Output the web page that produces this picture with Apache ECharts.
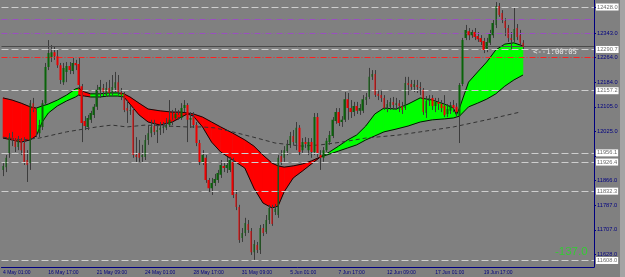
<!DOCTYPE html>
<html><head><meta charset="utf-8">
<script src="https://cdn.jsdelivr.net/npm/echarts@6/dist/echarts.min.js"></script>
<style>html,body{margin:0;padding:0;background:#808080;}#c{width:625px;height:277px;}</style>
</head><body><div id="c"></div>
<script>
// ---- data ----
const NBARS = 196;
const labelBars = [0, 15, 31, 47, 63, 79, 95, 111, 127, 143, 159];
const timeLabels = ['4 May 01:00', '16 May 17:00', '21 May 09:00', '24 May 01:00', '28 May 17:00', '31 May 09:00', '5 Jun 01:00', '7 Jun 17:00', '12 Jun 09:00', '17 Jun 01:00', '19 Jun 17:00'];

const opens = [11901,11910,11956,12007,11998,11975,11998,11988,11933,11923,
12117,12095,12020,12040,12117,12234,12266,12282,12269,12240,
12185,12218,12237,12221,12247,12244,12172,12059,12040,12063,
12079,12105,12160,12166,12143,12166,12150,12166,12185,12153,
12147,12101,12092,12095,11949,11956,11943,11943,11998,12020,
12043,12024,12030,12037,12037,12046,12063,12069,12079,12069,
12101,12111,12063,12072,12046,11988,11927,11940,11868,11842,
11859,11868,11885,11914,11907,11901,11927,11823,11781,11681,
11697,11726,11703,11635,11658,11642,11713,11700,11739,11778,
11765,11755,11946,11940,11962,11982,12011,11988,12037,11965,
11991,11965,11991,11959,12072,11949,11940,11965,11991,12011,
12059,12088,12056,12063,12130,12101,12088,12108,12092,12092,
12127,12137,12202,12211,12147,12143,12134,12101,12105,12121,
12111,12117,12108,12101,12182,12179,12169,12176,12169,12160,
12085,12124,12134,12108,12121,12114,12108,12082,12092,12111,
12105,12075,12179,12328,12350,12337,12347,12334,12328,12318,
12292,12312,12337,12370,12431,12409,12383,12360,12328,12321,
12360,12337,12312];
const closes = [11914,11940,12007,11998,11975,11998,11965,11927,11917,12117,
12095,12020,12046,12117,12234,12279,12282,12269,12240,12192,
12231,12237,12224,12247,12240,12176,12053,12043,12069,12085,
12105,12160,12169,12153,12166,12150,12169,12185,12153,12143,
12095,12092,12095,11949,11943,11940,11949,11998,12020,12040,
12024,12030,12037,12040,12046,12063,12059,12082,12072,12101,
12111,12063,12069,12046,11988,11927,11949,11868,11842,11859,
11872,11891,11917,11907,11917,11933,11820,11781,11674,11697,
11729,11707,11635,11661,11642,11713,11697,11739,11778,11726,
11775,11940,11927,11965,11982,12011,11991,12037,11959,11991,
11985,11991,11959,12072,11956,11940,11965,11995,12014,12063,
12088,12053,12063,12130,12101,12088,12108,12092,12101,12130,
12137,12202,12211,12143,12140,12134,12101,12114,12121,12111,
12117,12108,12095,12182,12176,12169,12179,12169,12166,12088,
12124,12134,12108,12121,12114,12101,12079,12098,12111,12101,
12088,12176,12321,12354,12337,12347,12331,12324,12315,12289,
12315,12341,12376,12431,12402,12386,12360,12328,12321,12357,
12331,12312,12299];
const lows = [11881,11894,11940,11978,11959,11965,11949,11917,11862,11901,
12088,12007,12007,12030,12111,12224,12250,12257,12231,12179,
12176,12185,12211,12211,12224,12166,11991,12030,12030,12053,
12069,12095,12134,12140,12137,12140,12143,12153,12143,12127,
12088,12053,12079,11940,11927,11927,11927,11933,11982,12007,
12014,11988,12014,12020,12030,12040,12046,12063,12063,12063,
12088,11991,12037,12037,11978,11917,11917,11859,11830,11820,
11849,11859,11875,11894,11891,11894,11810,11771,11665,11668,
11687,11697,11626,11610,11632,11629,11687,11694,11726,11720,
11755,11746,11917,11927,11949,11972,11982,11965,11949,11956,
11972,11949,11940,11949,11943,11901,11927,11959,11982,12004,
12050,12043,12040,12056,12063,12069,12075,12082,12079,12085,
12111,12130,12192,12137,12127,12121,12095,12088,12095,12095,
12095,12088,12082,12095,12143,12160,12153,12150,12143,12079,
12069,12108,12095,12088,12095,12088,12072,12072,12082,12088,
12072,11988,12172,12321,12321,12328,12321,12315,12305,12279,
12282,12305,12328,12360,12396,12376,12334,12315,12289,12315,
12321,12302,12292];
const highs = [11923,11949,12020,12024,12004,12011,12004,12007,11965,12127,
12134,12101,12063,12127,12247,12321,12305,12299,12289,12247,
12247,12250,12250,12263,12257,12263,12179,12075,12079,12092,
12114,12176,12192,12179,12185,12192,12208,12218,12208,12166,
12153,12127,12111,12101,12007,11998,11982,12014,12046,12063,
12063,12046,12056,12056,12069,12127,12095,12101,12095,12117,
12127,12117,12088,12088,12056,11998,11965,11949,11875,11875,
11888,11901,11933,11927,11943,11943,11940,11836,11788,11713,
11746,11739,11713,11674,11668,11723,11726,11755,11788,11788,
11791,11949,11965,11978,11998,12024,12030,12056,12046,12004,
12007,12004,12004,12085,12085,11965,11975,12004,12027,12072,
12101,12101,12075,12153,12150,12127,12121,12121,12114,12143,
12150,12231,12224,12224,12160,12160,12143,12127,12134,12137,
12134,12127,12121,12202,12202,12192,12192,12192,12185,12166,
12140,12143,12143,12134,12134,12127,12143,12114,12121,12127,
12117,12182,12328,12370,12360,12354,12360,12347,12337,12328,
12328,12354,12386,12444,12441,12418,12392,12370,12347,12428,
12373,12354,12321];

// ribbon edge lines read at selected bars, and ribbon colour (1 = up/green, -1 = down/red)
const maIdx = [0,3,6,9,11,13,15,18,21,24,25,27,29,32,35,38,40,42,45,48,52,56,59,61,63,66,69,72,76,80,83,86,89,91,93,96,99,102,105,108,111,114,117,120,123,126,130,134,138,142,146,149,150,151,154,157,160,163,166,169,172];
const maA = [12134,12127,12117,12105,12101,12108,12114,12127,12143,12163,
12166,12153,12147,12147,12150,12150,12147,12137,12117,12098,
12092,12088,12088,12085,12082,12072,12056,12040,12020,11998,
11978,11949,11923,11914,11910,11914,11920,11930,11943,11952,
11962,11972,11982,11998,12011,12024,12033,12043,12056,12063,
12066,12069,12072,12075,12105,12117,12130,12147,12172,12192,12208];
const maB = [12004,11998,11991,11998,12011,12056,12085,12108,12124,12137,
12143,12140,12137,12137,12140,12140,12137,12114,12079,12056,
12046,12056,12072,12082,12075,12040,11991,11959,11933,11907,
11842,11794,11778,11784,11830,11875,11897,11920,11943,11959,
11978,11998,12014,12043,12082,12101,12098,12114,12134,12127,
12114,12101,12079,12101,12185,12218,12250,12289,12308,12312,12302];
const ribbonTrend = [-1,-1,-1,-1,1,1,1,1,1,1,
-1,-1,1,1,1,1,-1,-1,-1,-1,
-1,-1,-1,-1,-1,-1,-1,-1,-1,-1,
-1,-1,-1,-1,-1,-1,-1,-1,1,1,
1,1,1,1,1,1,1,1,1,1,
1,1,1,1,1,1,1,1,1,1,1];
const longIdx = [0,6,12,21,31,36,41,47,54,61,66,70,76,84,90,99,105,112,120,131,138,149,160,171];
const maLong = [12007,11998,12004,12024,12040,12046,12040,12046,12043,12040,12040,12037,12024,12004,11988,11978,11982,11991,12004,12014,12024,12040,12063,12088];

const greyLevels = [12428.0, 12290.7, 12157.2, 11956.1, 11926.4, 11832.3, 11608.0];
const purpleLevels = [12388, 12343];
const redLevels = [12266];
const bidLevel = 12300;
const axisLabelVals = [12343, 12264, 12184, 12105, 12025, 11866, 11787, 11707, 11628];
const axisTickVals = [12428, 12343, 12264, 12184, 12105, 12025, 11946, 11866, 11787, 11707, 11628];
const YMIN = 11586.9, YMAX = 12450.7;

// ---- styles ----
const UP = '#00ff00', DN = '#ff0000', WICK = '#3c3c3c', NAVY = '#000080';

const cats = Array.from({length: NBARS}, (_, i) => {
  const j = labelBars.indexOf(i); return j >= 0 ? timeLabels[j] : '';
});
const candleData = opens.map((o, i) => [o, closes[i], lows[i], highs[i]]);
const wickData = opens.map((o, i) => [i, lows[i], highs[i]]);
const bandData = [];
for (let j = 0; j < maIdx.length - 1; j++) {
  bandData.push([maIdx[j], maA[j], maB[j], maIdx[j+1], maA[j+1], maB[j+1], ribbonTrend[j]]);
}

function bandItem(params, api) {
  const k0 = api.value(0), a0 = api.value(1), b0 = api.value(2);
  const k1 = api.value(3), a1 = api.value(4), b1 = api.value(5);
  const c = api.value(6) > 0 ? UP : DN;
  const P0 = api.coord([k0, a0]), Q0 = api.coord([k0, b0]);
  const P1 = api.coord([k1, a1]), Q1 = api.coord([k1, b1]);
  return {type: 'polygon', shape: {points: [P0, P1, Q1, Q0]}, style: {fill: c, stroke: c, lineWidth: 0.6}};
}
function wickItem(params, api) {
  const i = api.value(0);
  const lo = api.coord([i, api.value(1)]), hi = api.coord([i, api.value(2)]);
  const x = Math.round(lo[0]) + 0.5;
  return {type: 'line', shape: {x1: x, y1: lo[1], x2: x, y2: hi[1]}, style: {stroke: WICK, lineWidth: 1}};
}

const markData = [];
greyLevels.forEach(v => markData.push({yAxis: v, lineStyle: {color: '#cfcfcf', type: [7, 3], width: 1},
  label: {show: true, position: 'end', formatter: v.toFixed(1), color: '#6a6a6a', backgroundColor: '#ffffff',
    fontSize: 5.7, fontFamily: 'Liberation Sans', padding: [1, 1, 0, 1], distance: 2}}));
purpleLevels.forEach(v => markData.push({yAxis: v, lineStyle: {color: '#9a4fc0', type: [6, 2, 1, 2], width: 1}, label: {show: false}}));
redLevels.forEach(v => markData.push({yAxis: v, lineStyle: {color: '#ff2020', type: [6, 2, 1, 2], width: 1}, label: {show: false}}));
markData.push({yAxis: bidLevel, lineStyle: {color: '#4a4a4a', type: 'solid', width: 1}, label: {show: false}});

const chart = echarts.init(document.getElementById('c'), null, {renderer: 'canvas', width: 625, height: 277});
chart.setOption({
  animation: false,
  backgroundColor: '#808080',
  grid: {left: 0, right: 31, top: 0, bottom: 10, containLabel: false},
  xAxis: {type: 'category', data: cats, boundaryGap: true,
    axisLine: {show: true, onZero: false, lineStyle: {color: NAVY, width: 1}},
    axisTick: {show: false},
    axisLabel: {interval: 0, align: 'left', color: NAVY, fontSize: 5, fontFamily: 'Liberation Sans', margin: 3},
    splitLine: {show: false}},
  yAxis: {type: 'value', position: 'right', min: YMIN, max: YMAX,
    axisLine: {show: true, lineStyle: {color: NAVY, width: 1}},
    axisTick: {show: true, length: 2, customValues: axisTickVals, lineStyle: {color: NAVY}},
    axisLabel: {customValues: axisLabelVals, formatter: v => v.toFixed(1), color: NAVY, fontSize: 5.7, fontFamily: 'Liberation Sans', margin: 3},
    splitLine: {show: false}},
  series: [
    {type: 'custom', name: 'ribbon', renderItem: bandItem, data: bandData, z: 1, silent: true,
      encode: {x: 0, y: 1}, dimensions: ['k0', 'a0', 'b0', 'k1', 'a1', 'b1', 'trend']},
    {type: 'line', name: 'edgeA', data: maIdx.map((k, j) => [k, maA[j]]), symbol: 'none', z: 2, silent: true,
      lineStyle: {color: '#0c0c0c', width: 1}},
    {type: 'line', name: 'edgeB', data: maIdx.map((k, j) => [k, maB[j]]), symbol: 'none', z: 2, silent: true,
      lineStyle: {color: '#0c0c0c', width: 1}},
    {type: 'line', name: 'long', data: longIdx.map((k, j) => [k, maLong[j]]), symbol: 'none', z: 2, silent: true,
      lineStyle: {color: '#333333', width: 1, type: [4, 3]}},
    {type: 'line', name: 'levels', data: [], z: 3, silent: true,
      markLine: {silent: true, symbol: 'none', animation: false, data: markData}},
    {type: 'custom', name: 'wicks', renderItem: wickItem, data: wickData, z: 4, silent: true, encode: {x: 0, y: 1}},
    {type: 'candlestick', name: 'price', data: candleData, barWidth: 2, z: 5, silent: true,
      itemStyle: {color: '#0a640a', color0: '#ee0000', borderColor: '#0a640a', borderColor0: '#ee0000', borderWidth: 0}}
  ],
  graphic: [
    {type: 'rect', shape: {x: 620, y: 0, width: 5, height: 277}, style: {fill: '#a4a4a4'}, silent: true},
    {type: 'text', x: 533, y: 52.5, style: {text: '<--1:00:05', fill: '#ececec', font: '7.3px "DejaVu Sans Mono"', textVerticalAlign: 'middle'}},
    {type: 'text', x: 555, y: 251.5, style: {text: '-137.0', fill: '#33cc33', font: '11.5px "Liberation Sans"', textVerticalAlign: 'middle'}}
  ]
});
</script>
</body></html>
